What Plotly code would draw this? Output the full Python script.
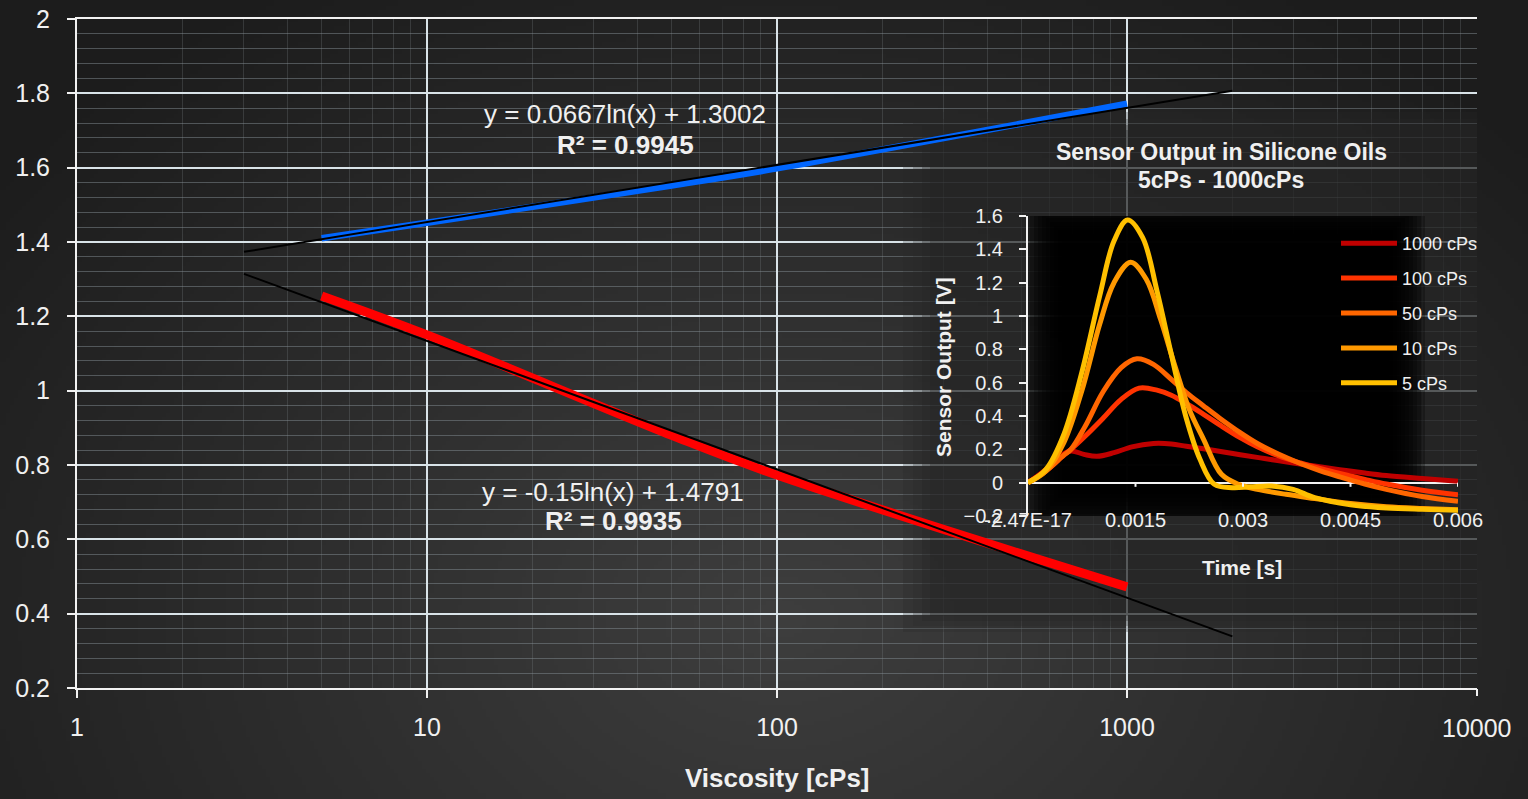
import base64
import struct
import zlib

import numpy as np
import plotly.graph_objects as go

# ---------------- main chart data ----------------
visc = [5, 10, 50, 100, 1000]
out_blue = [1.41, 1.452, 1.552, 1.598, 1.772]
out_red = [1.255, 1.15, 0.88, 0.773, 0.472]
trend_blue = {"a": 0.0667, "b": 1.3002, "r2": "0.9945"}
trend_red = {"a": -0.15, "b": 1.4791, "r2": "0.9935"}
trend_span = [3, 2000]
x_ticks = [1, 10, 100, 1000, 10000]
x_ticklabels = ["1", "10", "100", "1000", "10000"]
y_ticks = [0.2, 0.4, 0.6, 0.8, 1.0, 1.2, 1.4, 1.6, 1.8, 2.0]

# ---------------- inset data (time in ms, output in V) ----------------
series_names = ["1000 cPs", "100 cPs", "50 cPs", "10 cPs", "5 cPs"]
series_colors = ["#C00000", "#FF3300", "#FF6600", "#FF9900", "#FFC000"]

t_1000 = [0, 0.25, 0.45, 0.6, 0.78, 0.96, 1.2, 1.45, 1.75, 2.0, 2.21, 2.5, 2.75, 2.96, 3.3, 3.7, 4.0, 4.35, 4.7, 5.0, 5.5, 6.0]
v_1000 = [0, 0.08, 0.16, 0.19, 0.17, 0.158, 0.18, 0.215, 0.235, 0.232, 0.218, 0.2, 0.183, 0.168, 0.145, 0.118, 0.1, 0.078, 0.058, 0.043, 0.025, 0.008]

t_100 = [0, 0.25, 0.5, 0.6, 0.8, 1.05, 1.3, 1.55, 1.8, 2.0, 2.21, 2.45, 2.68, 2.96, 3.2, 3.5, 3.8, 4.1, 4.35, 4.7, 5.0, 5.5, 6.0]
v_100 = [0, 0.07, 0.165, 0.2, 0.28, 0.388, 0.5, 0.567, 0.555, 0.525, 0.475, 0.41, 0.345, 0.27, 0.215, 0.16, 0.118, 0.082, 0.055, 0.02, -0.008, -0.045, -0.072]

t_50 = [0, 0.25, 0.5, 0.6, 0.8, 1.05, 1.3, 1.52, 1.75, 2.0, 2.21, 2.45, 2.68, 2.96, 3.2, 3.5, 3.8, 4.1, 4.35, 4.7, 5.0, 5.5, 6.0]
v_50 = [0, 0.07, 0.165, 0.2, 0.34, 0.547, 0.69, 0.743, 0.71, 0.62, 0.54, 0.46, 0.385, 0.30, 0.235, 0.17, 0.115, 0.068, 0.035, -0.008, -0.04, -0.083, -0.112]

t_10 = [0, 0.25, 0.5, 0.75, 1.0, 1.2, 1.433, 1.65, 1.85, 2.05, 2.25, 2.45, 2.7, 2.95, 3.2, 3.6, 4.0, 4.5, 5.0, 5.5, 6.0]
v_10 = [0, 0.07, 0.24, 0.55, 0.95, 1.2, 1.322, 1.22, 0.98, 0.70, 0.44, 0.26, 0.05, -0.012, -0.04, -0.07, -0.095, -0.125, -0.145, -0.155, -0.162]

t_5 = [0, 0.25, 0.5, 0.75, 1.0, 1.2, 1.39, 1.6, 1.8, 2.0, 2.2, 2.4, 2.6, 2.85, 3.1, 3.4, 3.7, 4.0, 4.5, 5.0, 5.5, 6.0]
v_5 = [0, 0.08, 0.29, 0.66, 1.12, 1.45, 1.576, 1.47, 1.15, 0.77, 0.40, 0.14, -0.01, -0.03, -0.025, -0.02, -0.04, -0.09, -0.132, -0.152, -0.16, -0.165]

inset_t = [t_1000, t_100, t_50, t_10, t_5]
inset_v = [v_1000, v_100, v_50, v_10, v_5]

inset_xticks = [0, 0.0015, 0.003, 0.0045, 0.006]
inset_xticklabels = ["-2.47E-17", "0.0015", "0.003", "0.0045", "0.006"]
inset_yticks = [-0.2, 0, 0.2, 0.4, 0.6, 0.8, 1.0, 1.2, 1.4, 1.6]

FONT = "Liberation Sans, Arial, sans-serif"
TXT = "#f0f0f0"
AXC = "#f2f2f2"


# --------------- helpers (pixel -> layout coordinates for decorations) ---------------
def px(x):
    return (x - 77) / 1400.0


def py(y):
    return (688 - y) / 669.0


def mx(x):  # pixel -> value on main (log) x axis
    return 10 ** ((x - 77) / 350.0)


def my(y):  # pixel -> main y value
    return 0.2 + (688 - y) / (669.0 / 1.8)


def ix(x):  # pixel -> inset x value
    return (x - 1028) / 430.0 * 0.006


def iy(y):  # pixel -> inset y value
    return -0.2 + (516 - y) / 300.0 * 1.8


def png_data_uri(arr):
    h, w, _ = arr.shape
    raw = b"".join(b"\x00" + arr[i].tobytes() for i in range(h))

    def chunk(tag, data):
        c = struct.pack(">I", len(data)) + tag + data
        return c + struct.pack(">I", zlib.crc32(tag + data) & 0xFFFFFFFF)

    png = (b"\x89PNG\r\n\x1a\n"
           + chunk(b"IHDR", struct.pack(">IIBBBBB", w, h, 8, 2, 0, 0, 0))
           + chunk(b"IDAT", zlib.compress(raw, 9))
           + chunk(b"IEND", b""))
    return "data:image/png;base64," + base64.b64encode(png).decode()


# background radial gradient
W, H = 382, 200
gx, gy = np.meshgrid(np.linspace(0, 1528, W), np.linspace(0, 799, H))
r = np.sqrt(((gx - 780) / 1000.0) ** 2 + ((gy - 620) / 750.0) ** 2)
f = np.clip(1 - r, 0, 1)
val = 28 + (62 - 28) * f
bg = np.stack([val, val, val], axis=-1).astype(np.uint8)
bg_uri = png_data_uri(bg)

fig = go.Figure()

# ---------------- main traces ----------------
fig.add_trace(go.Scatter(x=visc, y=out_blue, mode="lines", line=dict(color="#0066FF", width=6.5, shape="spline"),
                         showlegend=False, hoverinfo="skip"))
fig.add_trace(go.Scatter(x=visc, y=out_red, mode="lines", line=dict(color="#FF0000", width=9, shape="spline"),
                         showlegend=False, hoverinfo="skip"))
xs = np.geomspace(trend_span[0], trend_span[1], 80)
for tr in (trend_blue, trend_red):
    fig.add_trace(go.Scatter(x=xs, y=tr["a"] * np.log(xs) + tr["b"], mode="lines",
                             line=dict(color="#000000", width=2), showlegend=False, hoverinfo="skip"))

# ---------------- inset traces ----------------
for name, col, tt, vv in zip(series_names, series_colors, inset_t, inset_v):
    fig.add_trace(go.Scatter(x=[t / 1000.0 for t in tt], y=vv, mode="lines", name=name, legendgroup=name,
                             line=dict(color=col, width=5, shape="spline", smoothing=1.0),
                             xaxis="x2", yaxis="y2", hoverinfo="skip"))

# ---------------- shapes ----------------
shapes = []
# dimming overlay of inset chart area (between main gridlines and main traces)
for (x0, yb, yt, a) in [(903, 632, 112, 0.25), (913, 626, 119, 0.25), (922, 621, 125, 0.3), (930, 616, 130, 0.3)]:
    shapes.append(dict(type="rect", xref="x", yref="y", x0=mx(x0), x1=mx(1477),
                       y0=my(yb), y1=my(yt), fillcolor=f"rgba(38,38,38,{a})", line=dict(width=0),
                       layer="between"))
# soft black inset plot background
for k in range(10):
    d = 4 * k
    shapes.append(dict(type="rect", xref="x2", yref="y2",
                       x0=ix(1026 + d), x1=ix(1425 - d), y0=iy(530 - d), y1=iy(198 + d),
                       fillcolor="rgba(0,0,0,0.27)", line=dict(width=0), layer="below"))
# inset x tick marks on the zero line
for t in inset_xticks[1:]:
    shapes.append(dict(type="line", xref="x2", yref="y2", x0=t, x1=t, y0=0, y1=-0.025,
                       line=dict(color=AXC, width=2), layer="above"))
# last main x tick (drawn separately so no gridline sits on the right plot edge)
shapes.append(dict(type="line", xref="paper", yref="paper", x0=1.0, x1=1.0, y0=py(689), y1=py(696),
                   line=dict(color=AXC, width=2), layer="above"))

# ---------------- annotations ----------------
ann = []


def eq_text(tr):
    return f"y = {tr['a']}ln(x) + {tr['b']}"


ann.append(dict(x=px(625), y=py(114), text=eq_text(trend_blue), font=dict(size=26, color=TXT)))
ann.append(dict(x=px(625), y=py(145), text=f"<b>R² = {trend_blue['r2']}</b>", font=dict(size=26, color=TXT)))
ann.append(dict(x=px(613), y=py(492), text=eq_text(trend_red), font=dict(size=26, color=TXT)))
ann.append(dict(x=px(613), y=py(521), text=f"<b>R² = {trend_red['r2']}</b>", font=dict(size=26, color=TXT)))
ann.append(dict(x=px(777), y=py(778), text="<b>Viscosity [cPs]</b>", font=dict(size=26, color=TXT)))
ann.append(dict(x=px(1221), y=py(152), text="<b>Sensor Output in Silicone Oils</b>", font=dict(size=23, color=TXT)))
ann.append(dict(x=px(1221), y=py(180), text="<b>5cPs - 1000cPs</b>", font=dict(size=23, color=TXT)))
ann.append(dict(x=px(944), y=py(367), text="<b>Sensor Output [V]</b>", textangle=-90, font=dict(size=21, color=TXT)))
ann.append(dict(x=px(1242), y=py(567), text="<b>Time [s]</b>", font=dict(size=21, color=TXT)))
ann.append(dict(x=1.0, y=py(728), text=x_ticklabels[-1], font=dict(size=25, color=TXT)))
for a in ann:
    a.update(xref="paper", yref="paper", showarrow=False, xanchor="center", yanchor="middle")

minor_x = [k * 10 ** d for d in range(4) for k in range(2, 10)]

fig.update_layout(
    width=1528, height=799,
    margin=dict(l=77, r=51, t=19, b=111, autoexpand=False),
    paper_bgcolor="#2a2a2a",
    plot_bgcolor="rgba(0,0,0,0)",
    font=dict(family=FONT, color=TXT),
    images=[dict(source=bg_uri, xref="paper", yref="paper", x=px(0), y=py(0),
                 sizex=1528 / 1400.0, sizey=799 / 669.0, xanchor="left", yanchor="top",
                 sizing="stretch", layer="below")],
    xaxis=dict(type="log", range=[0, 4], tickmode="array", tickvals=x_ticks[:-1], ticktext=x_ticklabels[:-1],
               ticks="outside", ticklen=8, tickwidth=2, tickcolor=AXC, automargin=False,
               showline=True, linecolor=AXC, linewidth=2, mirror=True,
               showgrid=True, gridcolor="#d9e3e8", gridwidth=1.5, zeroline=False,
               tickfont=dict(size=25, color=TXT), ticklabelstandoff=8,
               minor=dict(tickmode="array", tickvals=minor_x, showgrid=True,
                          gridcolor="rgba(130,140,145,0.25)", gridwidth=1, ticks="")),
    yaxis=dict(range=[0.2, 2.0], tickmode="array", tickvals=y_ticks, automargin=False,
               ticks="outside", ticklen=8, tickwidth=2, tickcolor=AXC,
               showline=True, linecolor=AXC, linewidth=2,
               showgrid=True, gridcolor="#d9e3e8", gridwidth=1.5, zeroline=False,
               tickfont=dict(size=25, color=TXT), ticklabelstandoff=12,
               minor=dict(tickmode="linear", tick0=0.2, dtick=0.04, showgrid=True,
                          gridcolor="rgba(130,140,145,0.5)", gridwidth=1, ticks="")),
    xaxis2=dict(domain=[px(1028), px(1458)], anchor="y2", range=[0, 0.006], automargin=False,
                tickmode="array", tickvals=inset_xticks, ticktext=inset_xticklabels,
                ticks="", showline=False, showgrid=False, zeroline=False,
                tickfont=dict(size=20, color=TXT), ticklabelstandoff=-10),
    yaxis2=dict(domain=[py(516), py(216)], anchor="x2", range=[-0.2, 1.6], automargin=False,
                tickmode="array", tickvals=inset_yticks,
                ticks="outside", ticklen=7, tickwidth=2, tickcolor=AXC,
                showline=True, linecolor=AXC, linewidth=2,
                showgrid=False, zeroline=True, zerolinecolor=AXC, zerolinewidth=2,
                tickfont=dict(size=20, color=TXT), ticklabelstandoff=12),
    legend=dict(x=px(1336), y=py(225), xanchor="left", yanchor="top", bgcolor="rgba(0,0,0,0)",
                font=dict(size=18, color=TXT), itemwidth=56, tracegroupgap=8.5, traceorder="grouped"),
    shapes=shapes,
    annotations=ann,
)

fig.write_html("out.html")
